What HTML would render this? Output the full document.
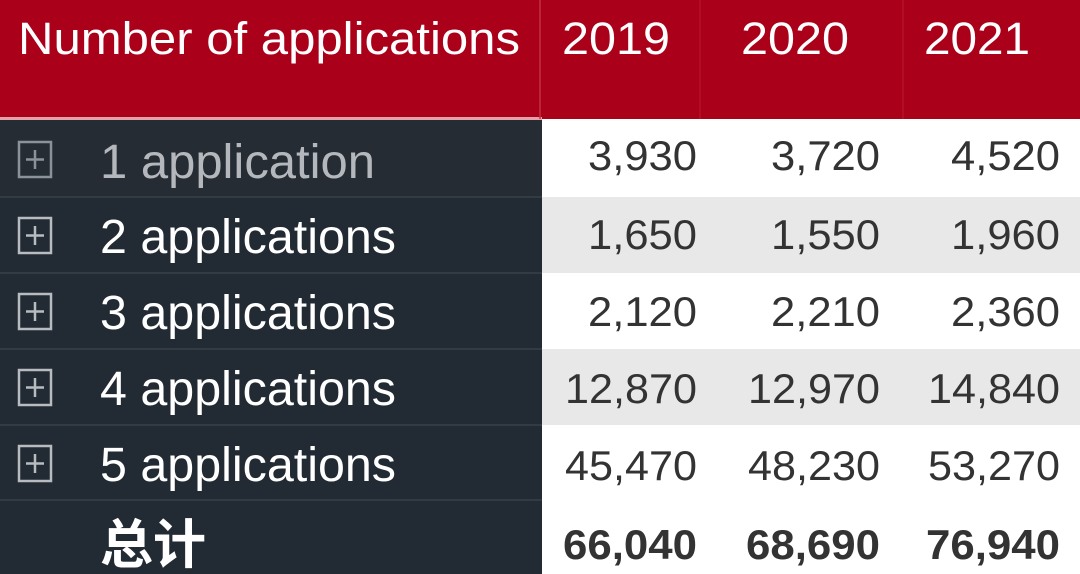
<!DOCTYPE html>
<html><head><meta charset="utf-8"><style>
html,body{margin:0;padding:0;width:1080px;height:574px;overflow:hidden;background:#fff}
svg{display:block}
</style></head><body>
<svg width="1080" height="574" xmlns="http://www.w3.org/2000/svg" font-family="'Liberation Sans','Noto Sans CJK SC',sans-serif">
<rect x="0" y="0" width="1080" height="119" fill="#ab0019"/>
<rect x="0" y="117" width="542" height="3" fill="#e8a0a8"/>
<line x1="540" y1="0" x2="540" y2="119" stroke="#c0303f" stroke-width="1.5"/>
<line x1="700" y1="0" x2="700" y2="119" stroke="#b81a2c" stroke-width="1"/>
<line x1="903" y1="0" x2="903" y2="119" stroke="#b81a2c" stroke-width="1"/>
<rect x="0" y="120" width="542" height="454" fill="#222a33"/>
<rect x="0" y="120" width="542" height="77" fill="#252c34"/>
<g stroke="#38404a" stroke-width="1.5">
<line x1="0" y1="197" x2="542" y2="197"/><line x1="0" y1="273" x2="542" y2="273"/>
<line x1="0" y1="349" x2="542" y2="349"/><line x1="0" y1="425" x2="542" y2="425"/>
<line x1="0" y1="500" x2="542" y2="500"/></g>
<rect x="542" y="197" width="538" height="76" fill="#e8e8e8"/>
<rect x="542" y="349" width="538" height="76" fill="#e8e8e8"/>
<g fill="#fff" font-size="45">
<text x="18" y="54" textLength="502" lengthAdjust="spacingAndGlyphs">Number of applications</text>
<text x="562" y="54" textLength="108" lengthAdjust="spacingAndGlyphs">2019</text>
<text x="741" y="54" textLength="108" lengthAdjust="spacingAndGlyphs">2020</text>
<text x="924" y="54" textLength="106" lengthAdjust="spacingAndGlyphs">2021</text>
</g>
<g fill="none" stroke-width="2.5">
<g stroke="#8d9298"><rect x="19" y="142" width="32" height="35"/><path d="M35 150V169M26 159.5H44"/></g>
<g stroke="#b8bcc0"><rect x="19" y="218" width="32" height="35"/><path d="M35 226V245M26 235.5H44"/>
<rect x="19" y="294" width="32" height="35"/><path d="M35 302V321M26 311.5H44"/>
<rect x="19" y="370" width="32" height="35"/><path d="M35 378V397M26 387.5H44"/>
<rect x="19" y="446" width="32" height="35"/><path d="M35 454V473M26 463.5H44"/></g>
</g>
<g font-size="48">
<text x="100" y="178" fill="#b4b8bc" textLength="275" lengthAdjust="spacingAndGlyphs">1 application</text>
<g fill="#fff">
<text x="100" y="253" textLength="296" lengthAdjust="spacingAndGlyphs">2 applications</text>
<text x="100" y="329" textLength="296" lengthAdjust="spacingAndGlyphs">3 applications</text>
<text x="100" y="405" textLength="296" lengthAdjust="spacingAndGlyphs">4 applications</text>
<text x="100" y="481" textLength="296" lengthAdjust="spacingAndGlyphs">5 applications</text>
</g>
<text x="100" y="563" fill="#fff" font-weight="bold" font-size="53">总计</text>
</g>
<g fill="#333" font-size="42" text-anchor="end" lengthAdjust="spacingAndGlyphs">
<text x="697" y="170" textLength="109" lengthAdjust="spacingAndGlyphs">3,930</text><text x="880" y="170" textLength="109" lengthAdjust="spacingAndGlyphs">3,720</text><text x="1060" y="170" textLength="109" lengthAdjust="spacingAndGlyphs">4,520</text>
<text x="697" y="249" textLength="109" lengthAdjust="spacingAndGlyphs">1,650</text><text x="880" y="249" textLength="109" lengthAdjust="spacingAndGlyphs">1,550</text><text x="1060" y="249" textLength="109" lengthAdjust="spacingAndGlyphs">1,960</text>
<text x="697" y="326" textLength="109" lengthAdjust="spacingAndGlyphs">2,120</text><text x="880" y="326" textLength="109" lengthAdjust="spacingAndGlyphs">2,210</text><text x="1060" y="326" textLength="109" lengthAdjust="spacingAndGlyphs">2,360</text>
<text x="697" y="403" textLength="132" lengthAdjust="spacingAndGlyphs">12,870</text><text x="880" y="403" textLength="132" lengthAdjust="spacingAndGlyphs">12,970</text><text x="1060" y="403" textLength="132" lengthAdjust="spacingAndGlyphs">14,840</text>
<text x="697" y="480" textLength="132" lengthAdjust="spacingAndGlyphs">45,470</text><text x="880" y="480" textLength="132" lengthAdjust="spacingAndGlyphs">48,230</text><text x="1060" y="480" textLength="132" lengthAdjust="spacingAndGlyphs">53,270</text>
<g font-weight="bold"><text x="697" y="559" textLength="134" lengthAdjust="spacingAndGlyphs">66,040</text><text x="880" y="559" textLength="134" lengthAdjust="spacingAndGlyphs">68,690</text><text x="1060" y="559" textLength="134" lengthAdjust="spacingAndGlyphs">76,940</text></g>
</g>
</svg>
</body></html>
